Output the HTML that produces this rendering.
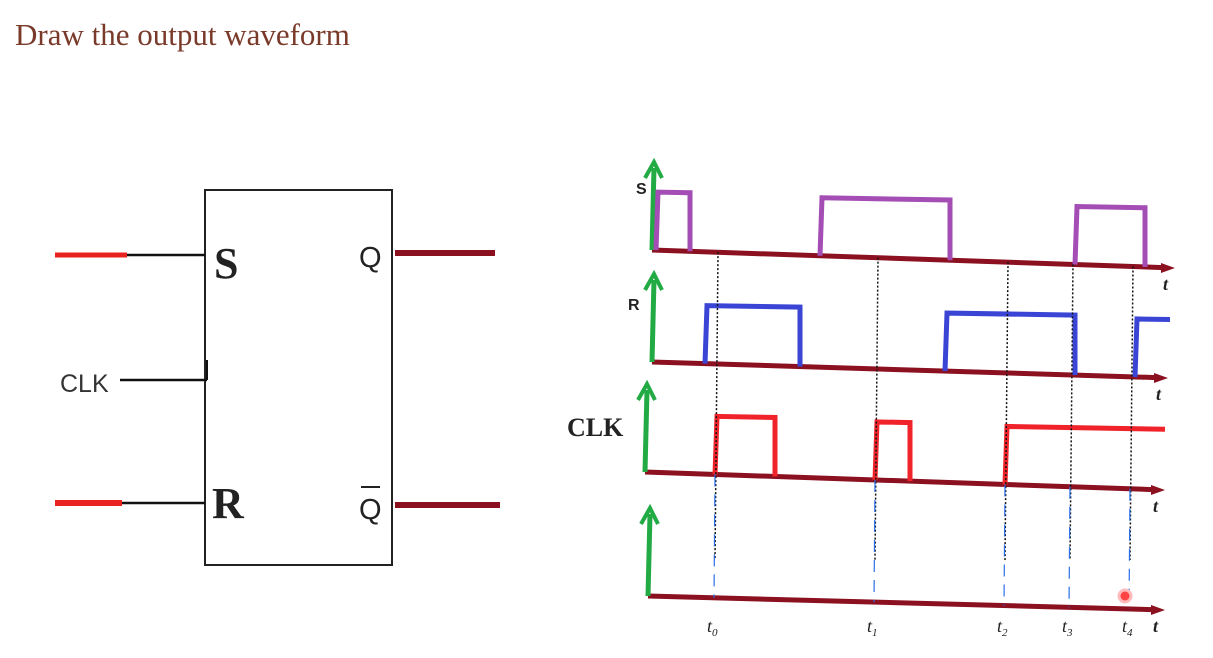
<!DOCTYPE html>
<html><head><meta charset="utf-8"><style>
body{margin:0;background:#fff;width:1213px;height:658px;overflow:hidden;}
svg{display:block}
</style></head><body>
<svg width="1213" height="658" viewBox="0 0 1213 658">
<text x="15" y="45" font-family="Liberation Serif, serif" font-size="31" fill="#7a3a2a">Draw the output waveform</text>
<g>
<rect x="205" y="190" width="187" height="375" fill="none" stroke="#222" stroke-width="2"/>
<line x1="55" y1="255" x2="127" y2="255" stroke="#e8231f" stroke-width="5"/>
<line x1="127" y1="255" x2="205" y2="255" stroke="#111" stroke-width="2.5"/>
<line x1="55" y1="503" x2="122" y2="503" stroke="#e8231f" stroke-width="6"/>
<line x1="122" y1="503" x2="205" y2="503" stroke="#111" stroke-width="2.5"/>
<line x1="120" y1="380" x2="207" y2="380" stroke="#111" stroke-width="2.5"/>
<line x1="207" y1="360" x2="207" y2="380" stroke="#111" stroke-width="2"/>
<text x="60" y="392" font-family="Liberation Sans, sans-serif" font-size="25" fill="#333">CLK</text>
<text x="214" y="278" font-family="Liberation Serif, serif" font-weight="bold" font-size="44" fill="#222">S</text>
<text x="212" y="518" font-family="Liberation Serif, serif" font-weight="bold" font-size="44" fill="#222">R</text>
<text x="359" y="267" font-family="Liberation Sans, sans-serif" font-size="29" fill="#222">Q</text>
<text x="359" y="519" font-family="Liberation Sans, sans-serif" font-size="29" fill="#222">Q</text>
<line x1="361" y1="487" x2="380" y2="487" stroke="#222" stroke-width="2"/>
<line x1="395" y1="253" x2="495" y2="253" stroke="#8b1020" stroke-width="6"/>
<line x1="395" y1="505" x2="500" y2="505" stroke="#8b1020" stroke-width="6"/>
</g>
<g id="wave"></g>
</svg>
<script>
const sHigh=[[0,8],[34,60],[85,99]];
const rHigh=[[11,30],[59,85],[97,104]];
const clkHigh=[[13,25],[45,52],[71,103]];
const markerTimes=[13,45,71,84,96];
const markerLabels=["t0","t1","t2","t3","t4"];
const NS="http://www.w3.org/2000/svg";
const g=document.getElementById('wave');
function xs(t){return 650+t*5;}
const rows=[
 {name:'s',x0:652,y0:250,x1:1175,y1:268,amp:58,color:'#a34db5',data:sHigh,label:'S',lx:636,ly:194,lsz:16,lf:'Liberation Sans'},
 {name:'r',x0:652,y0:362,x1:1168,y1:378,amp:58,color:'#3a45d6',data:rHigh,label:'R',lx:628,ly:310,lsz:16,lf:'Liberation Sans'},
 {name:'clk',x0:645,y0:472,x1:1165,y1:490,amp:58,color:'#f0232a',data:clkHigh,label:'CLK',lx:567,ly:436,lsz:26,lf:'Liberation Serif'},
 {name:'output',x0:648,y0:596,x1:1165,y1:610,amp:0,color:'none',data:[],label:'',lx:0,ly:0,lsz:0,lf:''}
];
function mk(tag,attrs){const e=document.createElementNS(NS,tag);for(const k in attrs)e.setAttribute(k,attrs[k]);g.appendChild(e);return e;}
function yb(r,x){return r.y0+(r.y1-r.y0)*(x-r.x0)/(r.x1-r.x0);}
rows.forEach(r=>{
 const ax=mk('line',{x1:r.x0,y1:r.y0,x2:r.x1-8,y2:r.y1-0.3,stroke:'#8b1020','stroke-width':5});
 
 
 const ah=mk('polygon',{points:`${r.x1},${r.y1} ${r.x1-14},${r.y1-5} ${r.x1-14},${r.y1+5}`,fill:'#8b1020'});
 
 
 const va=mk('line',{x1:r.x0,y1:r.y0,x2:r.x0+2,y2:r.y0-82,stroke:'#22aa44','stroke-width':5});
 
 
 const vh=mk('polyline',{points:`${r.x0-7},${r.y0-72} ${r.x0+2},${r.y0-88} ${r.x0+10},${r.y0-72}`,fill:'none',stroke:'#22aa44','stroke-width':4});
 
 
 const tl=mk('text',{x:r.x1-12,y:r.y1+22,'font-family':'Liberation Serif, serif','font-style':'italic','font-weight':'bold','font-size':18,fill:'#222'});
 tl.textContent='t';
 
 
 if(r.label){const l=mk('text',{x:r.lx,y:r.ly,'font-family':r.lf+', sans-serif','font-weight':'bold','font-size':r.lsz,fill:'#222'});
 l.textContent=r.label;
 
 }
 r.data.forEach((iv,i)=>{
  const xa=Math.max(xs(iv[0]),r.x0+4),xb=xs(iv[1]);
  const hs=(r.y1-r.y0)/(r.x1-r.x0)*0.5;
  const pts=[[xa,yb(r,xa)],[xa+2,yb(r,xa)-r.amp],[xb,yb(r,xa)-r.amp+(xb-xa)*hs]];
  if(iv[1]<100)pts.push([xb,yb(r,xb)]);
  const p=mk('polyline',{points:pts.map(p=>p.join(',')).join(' '),fill:'none',stroke:r.color,'stroke-width':5});
  
  
 });
});
markerTimes.forEach((t,i)=>{
 const x=xs(t);
 const d=mk('line',{x1:x+3,y1:yb(rows[0],x),x2:x,y2:560,stroke:'#111','stroke-width':1.5,'stroke-dasharray':'2,2'});
 
 
 const b=mk('line',{x1:x,y1:yb(rows[2],x),x2:x-1,y2:yb(rows[3],x),stroke:'#2a6ee8','stroke-width':1.2,'stroke-dasharray':'12,8'});
 
 
 const tx=mk('text',{x:x-8,y:632,'font-family':'Liberation Serif, serif','font-style':'italic','font-size':18,fill:'#222'});
 tx.textContent=markerLabels[i][0];
 const sub=document.createElementNS(NS,'tspan');sub.setAttribute('font-size','11');sub.setAttribute('dy','4');sub.textContent=markerLabels[i].slice(1);tx.appendChild(sub);
 
 
});
const c=mk('circle',{cx:1125,cy:596,r:6,fill:'#f44',stroke:'#fbb','stroke-width':3});


</script>
</body></html>
